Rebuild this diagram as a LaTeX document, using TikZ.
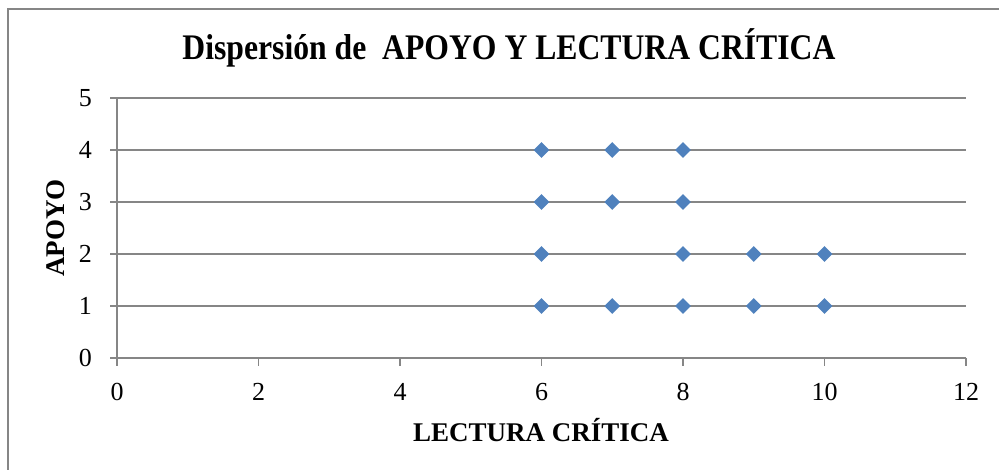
\documentclass[tikz,border=0pt]{standalone}
\usepackage{fontspec}
\usepackage{tikz}
\usepackage{xcolor}
\newfontfamily\charttitlefont{Liberation Serif}[FakeStretch=0.88]
\newfontfamily\axistitlefont{Liberation Serif}[FakeStretch=1.0]
\newfontfamily\ticklabelfont{Liberation Serif}
\definecolor{gridgrey}{HTML}{868686}
\definecolor{markerblue}{HTML}{4F81BD}
\tikzset{
    grid-line/.style = {draw=gridgrey, line width=1.5pt},
    data-point/.style = {fill=markerblue, draw=none, diamond-mark},
    diamond-mark/.style = {shape=rectangle, minimum size=11pt, inner sep=0pt, rotate=45},
    tick-label/.style = {font=\ticklabelfont\fontsize{26}{30}\selectfont, inner sep=0pt},
    axis-title/.style = {font=\axistitlefont\bfseries\fontsize{27}{30}\selectfont, inner sep=0pt},
}

\begin{document}
\begin{tikzpicture}[x=1pt, y=-1pt]
\useasboundingbox (0,0) rectangle (999,470);
% chart frame
\draw[draw=gridgrey, line width=1.5pt] (8,470) -- (8,9) -- (999,9);
\node[font=\charttitlefont\bfseries\fontsize{36}{40}\selectfont, inner sep=0pt] (title) at (509,48) {Dispersión de\ \ APOYO Y LECTURA CRÍTICA};
\begin{scope}[shift={(117,358)}, x=70.75pt, y=52pt]
    % grid and axes
    \foreach \y in {1,...,5}
        \draw[grid-line] (0,\y) -- (12,\y);
    \draw[grid-line] (0,0) -- (12,0);
    \draw[grid-line] (0,0) -- (0,5);
    \foreach \y in {0,...,5} {
        \draw[grid-line] (-7pt,\y) -- (0,\y);
        \node[tick-label, anchor=east] (ylab\y) at (-25pt,\y) {\y};
    }
    \foreach \x in {0,2,...,12} {
        \draw[grid-line] (\x,0) -- ++(0,-8pt);
        \node[tick-label, anchor=north] (xlab\x) at (\x,-25pt) {\x};
    }
    % points
    \foreach \px/\py in {6/4,7/4,8/4,6/3,7/3,8/3,6/2,8/2,9/2,10/2,6/1,7/1,8/1,9/1,10/1}
        \node[data-point] (pt\px\py) at (\px,\py) {};
\end{scope}
\node[axis-title, rotate=90] (ytitle) at (56,228) {APOYO};
\node[axis-title] (xtitle) at (541,430) {LECTURA CRÍTICA};
\end{tikzpicture}
\end{document}
